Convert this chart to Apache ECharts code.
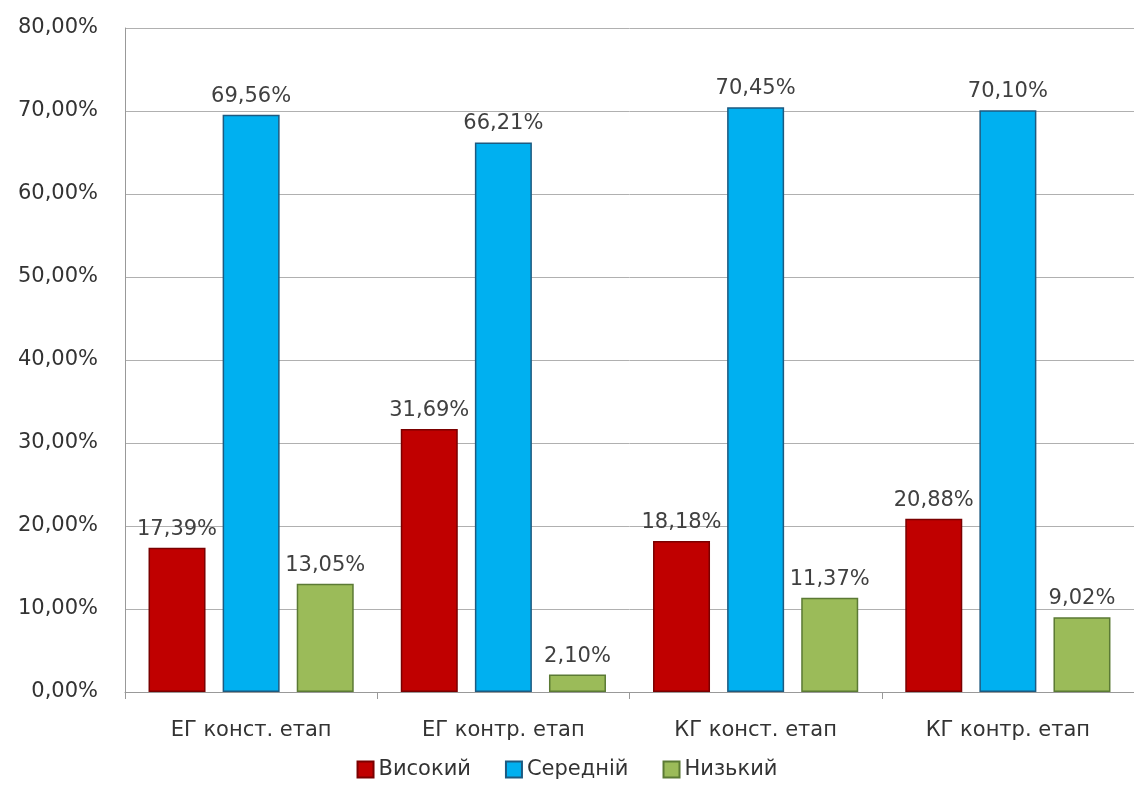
<!DOCTYPE html>
<html><head><meta charset="utf-8">
<script src="https://cdn.jsdelivr.net/npm/echarts@6/dist/echarts.min.js"></script>
<style>html,body{margin:0;padding:0;background:#fff}#c{width:1134px;height:793px}</style>
</head><body><div id="c"></div>
<script>
const categories = ['ЕГ конст. етап', 'ЕГ контр. етап', 'КГ конст. етап', 'КГ контр. етап'];
const seriesNames = ['Високий', 'Середній', 'Низький'];
const high = [17.39, 31.69, 18.18, 20.88];
const mid = [69.56, 66.21, 70.45, 70.10];
const low = [13.05, 2.10, 11.37, 9.02];
const yTicks = [0, 10, 20, 30, 40, 50, 60, 70, 80];

const fmt = v => v.toFixed(2).replace('.', ',') + '%';
const FONT = 'DejaVu Sans';
const FS = 21;
const colors = ['#C00000', '#00B0F0', '#9BBB59'];
const borders = ['#7a0000', '#1d5a80', '#5b7a34'];
const dataSets = [high, mid, low];

const chart = echarts.init(document.getElementById('c'));
chart.setOption({
  animation: false,
  textStyle: { fontFamily: FONT },
  grid: { left: 125, right: -5, top: 28, bottom: 101, containLabel: false },
  legend: {
    bottom: 8, left: 'center', itemWidth: 16, itemHeight: 16, itemGap: 34,
    icon: 'rect',
    textStyle: { fontFamily: FONT, fontSize: FS, color: '#333' },
    data: seriesNames
  },
  xAxis: {
    type: 'category', data: categories,
    axisLine: { lineStyle: { color: '#999' } },
    axisTick: { show: true, length: 7, lineStyle: { color: '#999' } },
    axisLabel: { fontFamily: FONT, fontSize: FS, color: '#333', margin: 28 }
  },
  yAxis: {
    type: 'value', min: 0, max: yTicks[yTicks.length - 1], interval: 10,
    axisLine: { show: true, lineStyle: { color: '#999' } },
    axisTick: { show: false },
    splitLine: { lineStyle: { color: '#b0b0b0' } },
    axisLabel: { fontFamily: FONT, fontSize: FS, color: '#333', margin: 27, formatter: v => fmt(v) }
  },
  series: seriesNames.map((n, i) => ({
    name: n, type: 'bar', data: dataSets[i],
    barWidth: 57, barGap: '30%',
    itemStyle: { color: colors[i], borderColor: borders[i], borderWidth: 1.5 },
    label: { show: true, position: 'top', distance: 8, fontFamily: FONT, fontSize: FS, color: '#404040', formatter: p => fmt(p.value) }
  }))
});
</script></body></html>
